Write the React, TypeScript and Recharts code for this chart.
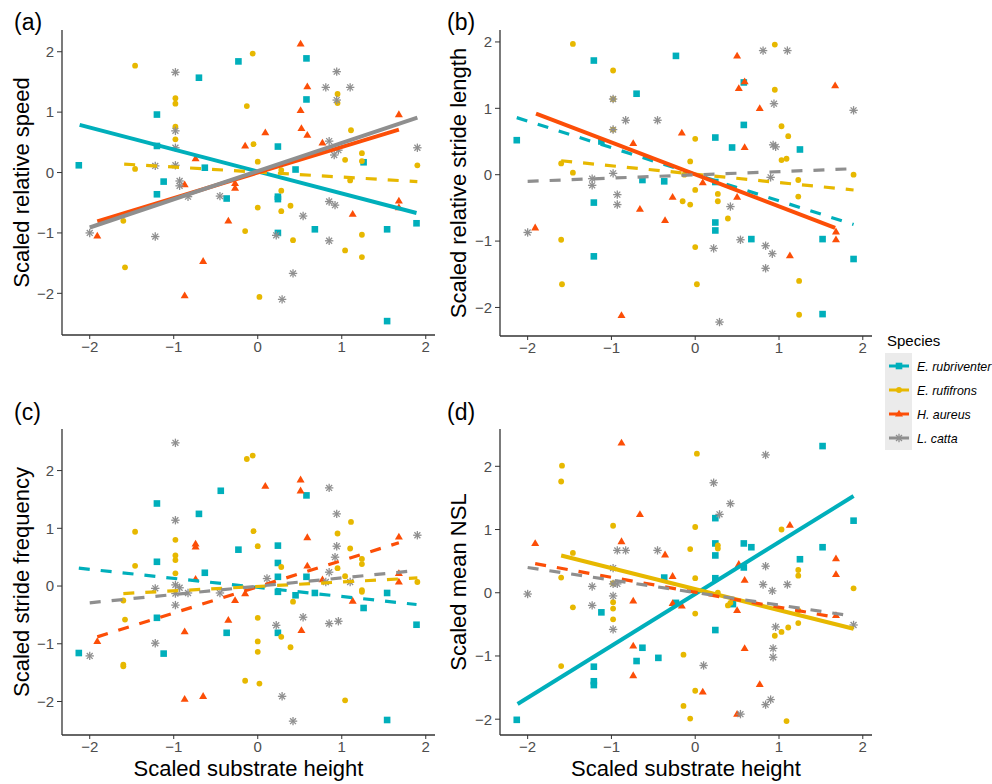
import React from "react";
import { ScatterChart, Scatter, XAxis, YAxis } from "recharts";

type Pt = [number, number];

const species = ["E. rubriventer", "E. rufifrons", "H. aureus", "L. catta"];
const xTicks = [-2, -1, 0, 1, 2];
const yTicks = [-2, -1, 0, 1, 2];
const xTitle = "Scaled substrate height";

// (a) scaled relative speed
const speedRub: Pt[] = [
  [-0.23, 1.84], [-0.7, 1.57], [-1.2, 0.96], [-1.2, 0.44], [-2.13, 0.12], [-0.63, 0.08], [-1.12, -0.15],
  [-1.2, -0.36], [-0.37, -0.43], [0.58, 1.89], [0.58, 1.21], [0.24, 0.43], [0.45, 0.05], [1.26, 0.17],
  [0.24, -0.4], [0.24, -0.44], [0.24, -1.0], [0.68, -0.94], [1.54, -0.94], [1.89, -0.84], [1.54, -2.46],
];
const speedRuf: Pt[] = [
  [-1.46, 1.77], [-0.98, 1.23], [-0.98, 1.14], [-0.13, 1.1], [-0.98, 0.76], [-0.98, 0.55], [-1.46, 0.06],
  [-1.6, -0.8], [-0.15, -0.97], [-1.58, -1.57], [-0.06, 1.97], [0.95, 1.3], [0.95, 1.15], [1.11, 0.7],
  [-0.05, 0.47], [0.0, 0.18], [0.28, 0.04], [1.24, 0.32], [1.24, 0.19], [1.04, 0.21], [1.1, -0.13],
  [1.9, 0.12], [0.28, -0.3], [0.0, -0.58], [0.28, -0.64], [0.39, -0.55], [0.42, -1.12], [1.24, -1.03],
  [1.04, -1.29], [1.24, -1.4], [0.02, -2.06],
];
const speedAur: Pt[] = [
  [-0.15, 0.44], [-0.74, 0.23], [-0.87, -0.2], [-0.27, -0.18], [-0.27, -0.26], [-0.35, -0.8], [-1.91, -1.05],
  [-0.65, -1.47], [-0.87, -2.04], [0.51, 2.13], [0.59, 1.42], [0.51, 1.03], [0.52, 0.73], [0.59, 0.62],
  [0.09, 0.66], [0.77, 0.49], [1.68, 0.96], [1.68, -0.47], [1.68, -0.58], [1.13, -0.69],
];
const speedCat: Pt[] = [
  [-0.98, 1.66], [-0.98, 0.69], [-0.98, 0.41], [-1.22, 0.11], [-0.98, 0.12], [-0.93, -0.14], [-0.93, -0.22],
  [-0.83, -0.4], [-0.45, -0.39], [-2.0, -1.0], [-1.22, -1.06], [0.94, 1.67], [0.81, 1.41], [1.1, 1.41],
  [0.94, 1.2], [0.85, 0.52], [0.96, 0.37], [0.91, 0.29], [1.9, 0.41], [0.85, -0.48], [0.92, -0.54],
  [0.54, -0.72], [0.22, -1.04], [0.85, -1.13], [0.42, -1.67], [0.29, -2.1],
];
const speedFits: Pt[][] = [
  [[-2.12, 0.79], [1.89, -0.67]],
  [[-1.59, 0.14], [1.9, -0.15]],
  [[-1.91, -0.81], [1.68, 0.71]],
  [[-2.0, -0.91], [1.9, 0.91]],
];

// (b) scaled relative stride length
const lengthRub: Pt[] = [
  [-1.21, 1.72], [-0.23, 1.79], [-0.7, 1.22], [-2.13, 0.52], [-1.12, 0.5], [-0.63, -0.08], [-0.37, -0.1],
  [-1.21, -0.42], [-1.21, -1.23], [0.58, 1.39], [0.58, 0.75], [0.24, 0.56], [0.44, 0.41], [1.25, 0.38],
  [0.24, -0.11], [0.24, -0.72], [0.24, -0.84], [0.67, -0.97], [1.52, -0.97], [1.89, -1.27], [1.52, -2.1],
];
const lengthRuf: Pt[] = [
  [-1.46, 1.97], [-0.98, 1.57], [-0.98, 1.14], [-0.98, 0.68], [-1.6, 0.17], [-1.46, 0.03], [-0.15, -0.4],
  [-1.6, -0.98], [-1.59, -1.65], [0.95, 1.96], [0.95, 1.28], [1.03, 0.73], [1.11, 0.58], [0.0, 0.54],
  [-0.06, 0.2], [1.03, 0.22], [1.09, 0.24], [-0.13, 0.0], [1.89, 0.0], [1.23, -0.08], [0.0, -0.23],
  [0.27, -0.29], [0.27, -0.4], [-0.06, -0.45], [1.23, -0.33], [0.39, -0.66], [0.0, -1.09], [0.02, -1.65],
  [1.24, -1.6], [1.24, -2.11],
];
const lengthAur: Pt[] = [
  [-0.16, 0.63], [-0.74, 0.47], [-0.27, -0.34], [-0.66, -0.52], [-0.36, -0.69], [-1.91, -0.8], [-0.88, -2.12],
  [0.5, 1.79], [0.59, 1.4], [0.52, 1.3], [1.67, 1.34], [0.77, 1.0], [0.59, 0.41], [0.09, -0.12],
  [0.5, -0.34], [1.68, -0.86], [1.68, -0.98], [1.13, -1.22],
];
const lengthCat: Pt[] = [
  [-0.98, 1.14], [-0.83, 0.82], [-0.45, 0.82], [-0.98, 0.68], [-0.98, 0.02], [-1.23, -0.06], [-1.23, -0.16],
  [-0.93, -0.3], [-0.93, -0.45], [-2.0, -0.87], [0.81, 1.87], [1.1, 1.87], [0.94, 1.07], [1.89, 0.97],
  [0.93, 0.45], [0.96, 0.42], [0.9, -0.04], [0.42, -0.48], [0.54, -0.98], [0.22, -1.11], [0.84, -1.07],
  [0.92, -1.19], [0.84, -1.41], [0.29, -2.22],
];
const lengthFits: Pt[][] = [
  [[-2.13, 0.86], [1.89, -0.75]],
  [[-1.6, 0.21], [1.89, -0.23]],
  [[-1.9, 0.92], [1.67, -0.8]],
  [[-2.0, -0.1], [1.89, 0.09]],
];

// (c) scaled stride frequency
const freqRub: Pt[] = [
  [-1.2, 1.43], [-0.7, 1.25], [-0.44, 1.65], [-0.23, 0.63], [-1.2, 0.42], [-0.63, 0.23], [-1.2, -0.55],
  [-0.37, -0.81], [-2.13, -1.16], [-1.12, -1.17], [0.58, 1.57], [0.24, 0.7], [0.24, 0.4], [0.24, 0.16],
  [0.58, 0.16], [0.24, -0.1], [0.45, -0.16], [0.68, -0.12], [1.54, -0.12], [1.26, -0.38], [1.89, -0.67],
  [0.24, -0.81], [1.54, -2.32],
];
const freqRuf: Pt[] = [
  [-0.13, 2.2], [-1.46, 0.94], [-0.98, 0.8], [-0.98, 0.53], [-0.98, 0.45], [-1.46, 0.35], [-0.98, 0.22],
  [-1.6, -0.25], [-1.58, -0.58], [-1.6, -1.36], [-1.6, -1.39], [-0.15, -1.64], [-0.06, 2.26], [1.11, 1.11],
  [-0.05, 0.95], [0.95, 0.91], [0.0, 0.69], [1.1, 0.65], [1.24, 0.47], [1.24, 0.38], [0.28, 0.33],
  [0.95, 0.31], [1.04, 0.17], [1.9, 0.07], [1.24, -0.07], [1.24, -0.1], [0.42, -0.27], [0.0, -0.55],
  [0.28, -0.88], [0.0, -0.96], [0.0, -1.14], [0.39, -1.06], [0.02, -1.69], [1.04, -1.98],
];
const freqAur: Pt[] = [
  [-0.74, 0.73], [-0.74, 0.68], [-0.74, 0.12], [-0.15, -0.13], [-0.27, -0.25], [-0.35, -0.59], [-0.87, -0.79],
  [-1.91, -0.96], [-0.87, -1.96], [-0.65, -1.91], [0.09, 1.73], [0.51, 1.84], [0.51, 1.65], [0.59, 0.84],
  [1.68, 0.85], [0.59, 0.35], [0.77, 0.11], [1.68, 0.22], [1.68, 0.07], [1.13, -0.26], [0.52, -0.77],
];
const freqCat: Pt[] = [
  [-0.98, 2.48], [-0.98, 1.14], [-1.22, -0.04], [-0.98, 0.02], [-0.93, -0.03], [-0.98, -0.13], [-0.83, -0.12],
  [-0.98, -0.33], [-1.22, -0.99], [-2.0, -1.21], [-0.45, -0.12], [0.85, 1.7], [0.94, 1.25], [0.94, 0.69],
  [0.92, 0.5], [1.9, 0.88], [0.11, 0.13], [0.85, 0.24], [0.81, 0.07], [1.1, 0.07], [0.54, -0.54],
  [0.22, -0.68], [0.85, -0.65], [0.96, -0.61], [0.29, -1.91], [0.42, -2.34],
];
const freqFits: Pt[][] = [
  [[-2.13, 0.31], [1.89, -0.32]],
  [[-1.6, -0.13], [1.9, 0.14]],
  [[-1.91, -0.88], [1.68, 0.75]],
  [[-2.0, -0.29], [1.9, 0.27]],
];

// (d) scaled mean NSL
const nslRub: Pt[] = [
  [-0.37, 0.24], [-1.12, -0.31], [-0.23, -0.16], [-0.63, -0.87], [-0.7, -1.08], [-0.44, -1.03], [-1.21, -1.17],
  [-1.21, -1.4], [-1.21, -1.46], [-2.13, -2.01], [1.52, 2.32], [0.24, 1.18], [0.24, 0.78], [0.24, 0.59],
  [0.58, 0.78], [0.67, 0.72], [1.89, 1.14], [1.52, 0.72], [1.25, 0.53], [0.58, 0.4], [0.24, 0.23],
  [0.45, -0.18], [0.24, -0.59],
];
const nslRuf: Pt[] = [
  [-1.59, 2.01], [-1.6, 1.76], [-0.98, 1.06], [-1.46, 0.63], [-1.6, 0.24], [-0.98, 0.15], [-1.46, -0.23],
  [-0.98, -0.15], [-0.98, -0.25], [-0.98, -0.42], [-1.6, -1.16], [-0.14, -0.98], [-0.14, -1.79], [0.02, 2.2],
  [0.0, 1.04], [1.03, 1.0], [-0.06, 0.69], [0.27, 0.75], [0.27, 0.7], [0.0, 0.23], [1.23, 0.36],
  [1.23, 0.27], [1.89, 0.07], [0.27, 0.0], [0.39, -0.2], [0.42, -0.16], [0.0, -0.33], [1.23, -0.48],
  [1.11, -0.55], [1.03, -0.62], [0.95, -0.68], [1.23, -0.28], [0.0, -1.55], [-0.06, -1.99], [1.09, -2.03],
];
const nslAur: Pt[] = [
  [-0.88, 2.37], [-0.66, 1.24], [-0.88, 0.81], [-1.91, 0.78], [-0.36, 0.6], [-0.27, 0.26], [-0.74, -0.13],
  [-0.27, -0.17], [-0.16, -0.21], [-0.74, -0.84], [-0.74, -1.31], [1.13, 1.07], [1.68, 0.54], [1.68, 0.29],
  [0.52, 0.45], [0.59, 0.2], [0.5, -0.28], [1.68, -0.36], [0.59, -0.88], [0.77, -1.45], [0.09, -1.57],
  [0.5, -1.92],
];
const nslCat: Pt[] = [
  [-0.93, 0.67], [-0.83, 0.67], [-0.45, 0.67], [-0.98, 0.39], [-1.23, 0.1], [-0.98, 0.14], [-0.93, 0.14],
  [-2.0, -0.02], [-0.98, -0.05], [-1.23, -0.2], [-0.98, -0.58], [0.84, 2.18], [0.22, 1.74], [0.42, 1.41],
  [0.29, 1.24], [0.84, 0.42], [0.81, 0.13], [1.1, 0.13], [0.92, 0.03], [1.89, -0.51], [0.96, -0.54],
  [0.93, -0.88], [0.93, -1.02], [0.1, -1.15], [0.9, -1.69], [0.84, -1.77], [0.54, -1.92],
];
const nslFits: Pt[][] = [
  [[-2.12, -1.76], [1.89, 1.53]],
  [[-1.6, 0.59], [1.89, -0.57]],
  [[-1.91, 0.46], [1.68, -0.39]],
  [[-2.0, 0.4], [1.89, -0.37]],
];

const W = 992;
const H = 784;
const YW = 60;
const XH = 40;
const X_DOMAIN: [number, number] = [-2.33, 2.11];
const COLORS = ["#00AFBB", "#E7B800", "#FC4E07", "#8f8f8f"];
const FONT = "'Liberation Sans', Arial, Helvetica, sans-serif";

const toXY = (pts: Pt[]) => pts.map(([x, y]) => ({ x, y }));
const minus = (v: number) => (v < 0 ? `\u2212${Math.abs(v)}` : `${v}`);

function Square({ cx, cy }: any) {
  return <rect x={cx - 3.3} y={cy - 3.3} width={6.6} height={6.6} fill={COLORS[0]} />;
}
function Dot({ cx, cy }: any) {
  return <circle cx={cx} cy={cy} r={2.9} fill={COLORS[1]} />;
}
function Tri({ cx, cy }: any) {
  return <polygon points={`${cx - 4},${cy + 2.6} ${cx + 4},${cy + 2.6} ${cx},${cy - 4.2}`} fill={COLORS[2]} />;
}
function Star({ cx, cy }: any) {
  const r = 4.2;
  const d = r * 0.707;
  return (
    <g stroke={COLORS[3]} strokeWidth={1.3}>
      <line x1={cx - r} y1={cy} x2={cx + r} y2={cy} />
      <line x1={cx} y1={cy - r} x2={cx} y2={cy + r} />
      <line x1={cx - d} y1={cy - d} x2={cx + d} y2={cy + d} />
      <line x1={cx - d} y1={cy + d} x2={cx + d} y2={cy - d} />
    </g>
  );
}
const SHAPES = [Square, Dot, Tri, Star];
const Empty = () => <g />;

type Box = { left: number; top: number; right: number; bottom: number };

function Panel({ box, yDomain, points, fits, dashed }: {
  box: Box; yDomain: [number, number]; points: Pt[][]; fits: Pt[][]; dashed: boolean[];
}) {
  const axis = { stroke: "#333", strokeWidth: 1.3 };
  return (
    <div style={{ position: "absolute", left: 0, top: 0 }}>
      <ScatterChart
        width={W}
        height={H}
        margin={{ top: box.top, right: W - box.right, bottom: H - box.bottom - XH, left: box.left - YW }}
      >
        <XAxis
          type="number"
          dataKey="x"
          domain={X_DOMAIN}
          ticks={xTicks}
          allowDataOverflow
          height={XH}
          tick={{ fontSize: 15, fill: "#4d4d4d" }}
          tickFormatter={minus}
          axisLine={axis}
          tickLine={{ stroke: "#333" }}
          tickSize={4}
          tickMargin={2}
        />
        <YAxis
          type="number"
          dataKey="y"
          domain={yDomain}
          ticks={yTicks}
          allowDataOverflow
          width={YW}
          tick={{ fontSize: 15, fill: "#4d4d4d" }}
          tickFormatter={minus}
          axisLine={axis}
          tickLine={{ stroke: "#333" }}
          tickSize={5}
          tickMargin={3}
        />
        {points.map((pts, i) => (
          <Scatter key={`p${i}`} data={toXY(pts)} shape={SHAPES[i]} isAnimationActive={false} />
        ))}
        {fits.map((f, i) => (
          <Scatter
            key={`f${i}`}
            data={toXY(f)}
            shape={Empty}
            fill={COLORS[i]}
            line={{
              stroke: COLORS[i],
              strokeWidth: dashed[i] ? 3.2 : 4,
              strokeDasharray: dashed[i] ? "11 11" : undefined,
            }}
            isAnimationActive={false}
          />
        ))}
      </ScatterChart>
    </div>
  );
}

const PANELS = [
  {
    tag: "(a)", yTitle: "Scaled relative speed",
    box: { left: 62, top: 30, right: 435, bottom: 335 }, yDomain: [-2.69, 2.36] as [number, number],
    points: [speedRub, speedRuf, speedAur, speedCat], fits: speedFits, dashed: [false, true, false, false],
  },
  {
    tag: "(b)", yTitle: "Scaled relative stride length",
    box: { left: 500, top: 30, right: 872, bottom: 336 }, yDomain: [-2.43, 2.18] as [number, number],
    points: [lengthRub, lengthRuf, lengthAur, lengthCat], fits: lengthFits, dashed: [true, true, false, true],
  },
  {
    tag: "(c)", yTitle: "Scaled stride frequency",
    box: { left: 62, top: 429, right: 435, bottom: 735 }, yDomain: [-2.58, 2.72] as [number, number],
    points: [freqRub, freqRuf, freqAur, freqCat], fits: freqFits, dashed: [true, true, true, true],
  },
  {
    tag: "(d)", yTitle: "Scaled mean NSL",
    box: { left: 500, top: 429, right: 872, bottom: 735 }, yDomain: [-2.25, 2.59] as [number, number],
    points: [nslRub, nslRuf, nslAur, nslCat], fits: nslFits, dashed: [false, false, true, true],
  },
];

export default function App() {
  const legendRows = [366, 390, 414, 438];
  return (
    <div
      style={{
        position: "fixed", left: 0, top: 0, width: W, height: H, overflow: "hidden",
        background: "#fff", fontFamily: FONT,
      }}
    >
      {PANELS.map((p) => (
        <Panel key={p.tag} box={p.box} yDomain={p.yDomain} points={p.points} fits={p.fits} dashed={p.dashed} />
      ))}
      <svg width={W} height={H} style={{ position: "absolute", left: 0, top: 0, pointerEvents: "none" }}>
        {PANELS.map((p) => {
          const cx = (p.box.left + p.box.right) / 2;
          const cy = (p.box.top + p.box.bottom) / 2;
          const tx = p.box.left < 100 ? 29 : 466;
          const tagY = p.box.top < 100 ? 30 : 420;
          const tagX = p.box.left < 100 ? 14 : 447;
          return (
            <g key={p.tag} fontFamily={FONT} fill="#000">
              <text x={tagX} y={tagY} fontSize={23}>{p.tag}</text>
              <text x={tx} y={cy} fontSize={22} textAnchor="middle" transform={`rotate(-90 ${tx} ${cy})`}>
                {p.yTitle}
              </text>
              {p.box.top > 100 && (
                <text x={cx} y={776} fontSize={22} textAnchor="middle">{xTitle}</text>
              )}
            </g>
          );
        })}
        <g fontFamily={FONT}>
          <text x={887} y={346} fontSize={15} fill="#000">Species</text>
          <rect x={885} y={353} width={27} height={97} fill="#ebebeb" />
          {species.map((s, i) => {
            const y = legendRows[i];
            const Shape = SHAPES[i];
            return (
              <g key={s}>
                <line x1={889} x2={909} y1={y} y2={y} stroke={COLORS[i]} strokeWidth={3} />
                <Shape cx={899} cy={y} />
                <text x={917} y={y + 5} fontSize={12.4} fontStyle="italic" fill="#000">{s}</text>
              </g>
            );
          })}
        </g>
      </svg>
    </div>
  );
}
